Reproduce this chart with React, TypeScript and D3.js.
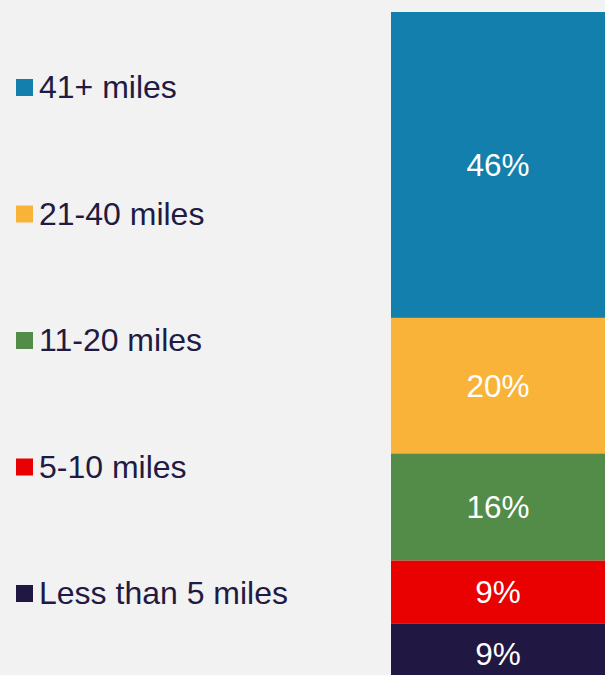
import React, { useEffect } from "react";
import * as d3 from "d3";

const categories = ["41+ miles", "21-40 miles", "11-20 miles", "5-10 miles", "Less than 5 miles"];
const values = [46, 20.4, 16.1, 9.5, 9];
const labels = ["46%", "20%", "16%", "9%", "9%"];
const colors = ["#137fad", "#f9b339", "#538b48", "#e90000", "#211743"];

const W = 605;
const H = 675;

export default function App() {
  useEffect(() => {
    document.body.style.margin = "0";
  }, []);

  const y = d3.scaleLinear().domain([0, 100]).range([12, 12 + 665]);
  const x0 = 391;
  const x1 = 605;
  let acc = 0;
  const segs = values.map((v, i) => {
    const s = { y0: y(acc), y1: y(acc + v), i };
    acc += v;
    return s;
  });
  const legendY = d3.scalePoint<string>().domain(categories).range([87, 593]);
  const font = "Arial, 'Liberation Sans', sans-serif";

  return (
    <svg width={W} height={H} style={{ display: "block" }}>
      <rect x={0} y={0} width={W} height={H} fill="#f2f2f2" />
      {segs.map((s) => (
        <g key={s.i}>
          <rect x={x0} y={s.y0} width={x1 - x0} height={s.y1 - s.y0} fill={colors[s.i]} />
          <text
            x={(x0 + x1) / 2}
            y={(s.y0 + s.y1) / 2}
            textAnchor="middle"
            dominantBaseline="central"
            fill="#ffffff"
            fontFamily={font}
            fontSize={31.5}
          >
            {labels[s.i]}
          </text>
        </g>
      ))}
      {categories.map((c, i) => {
        const cy = legendY(c) as number;
        return (
          <g key={c}>
            <rect x={16} y={cy - 8} width={17} height={17} fill={colors[i]} />
            <text
              x={39}
              y={cy}
              dominantBaseline="central"
              fill="#211a43"
              fontFamily={font}
              fontSize={32}
            >
              {c}
            </text>
          </g>
        );
      })}
    </svg>
  );
}
